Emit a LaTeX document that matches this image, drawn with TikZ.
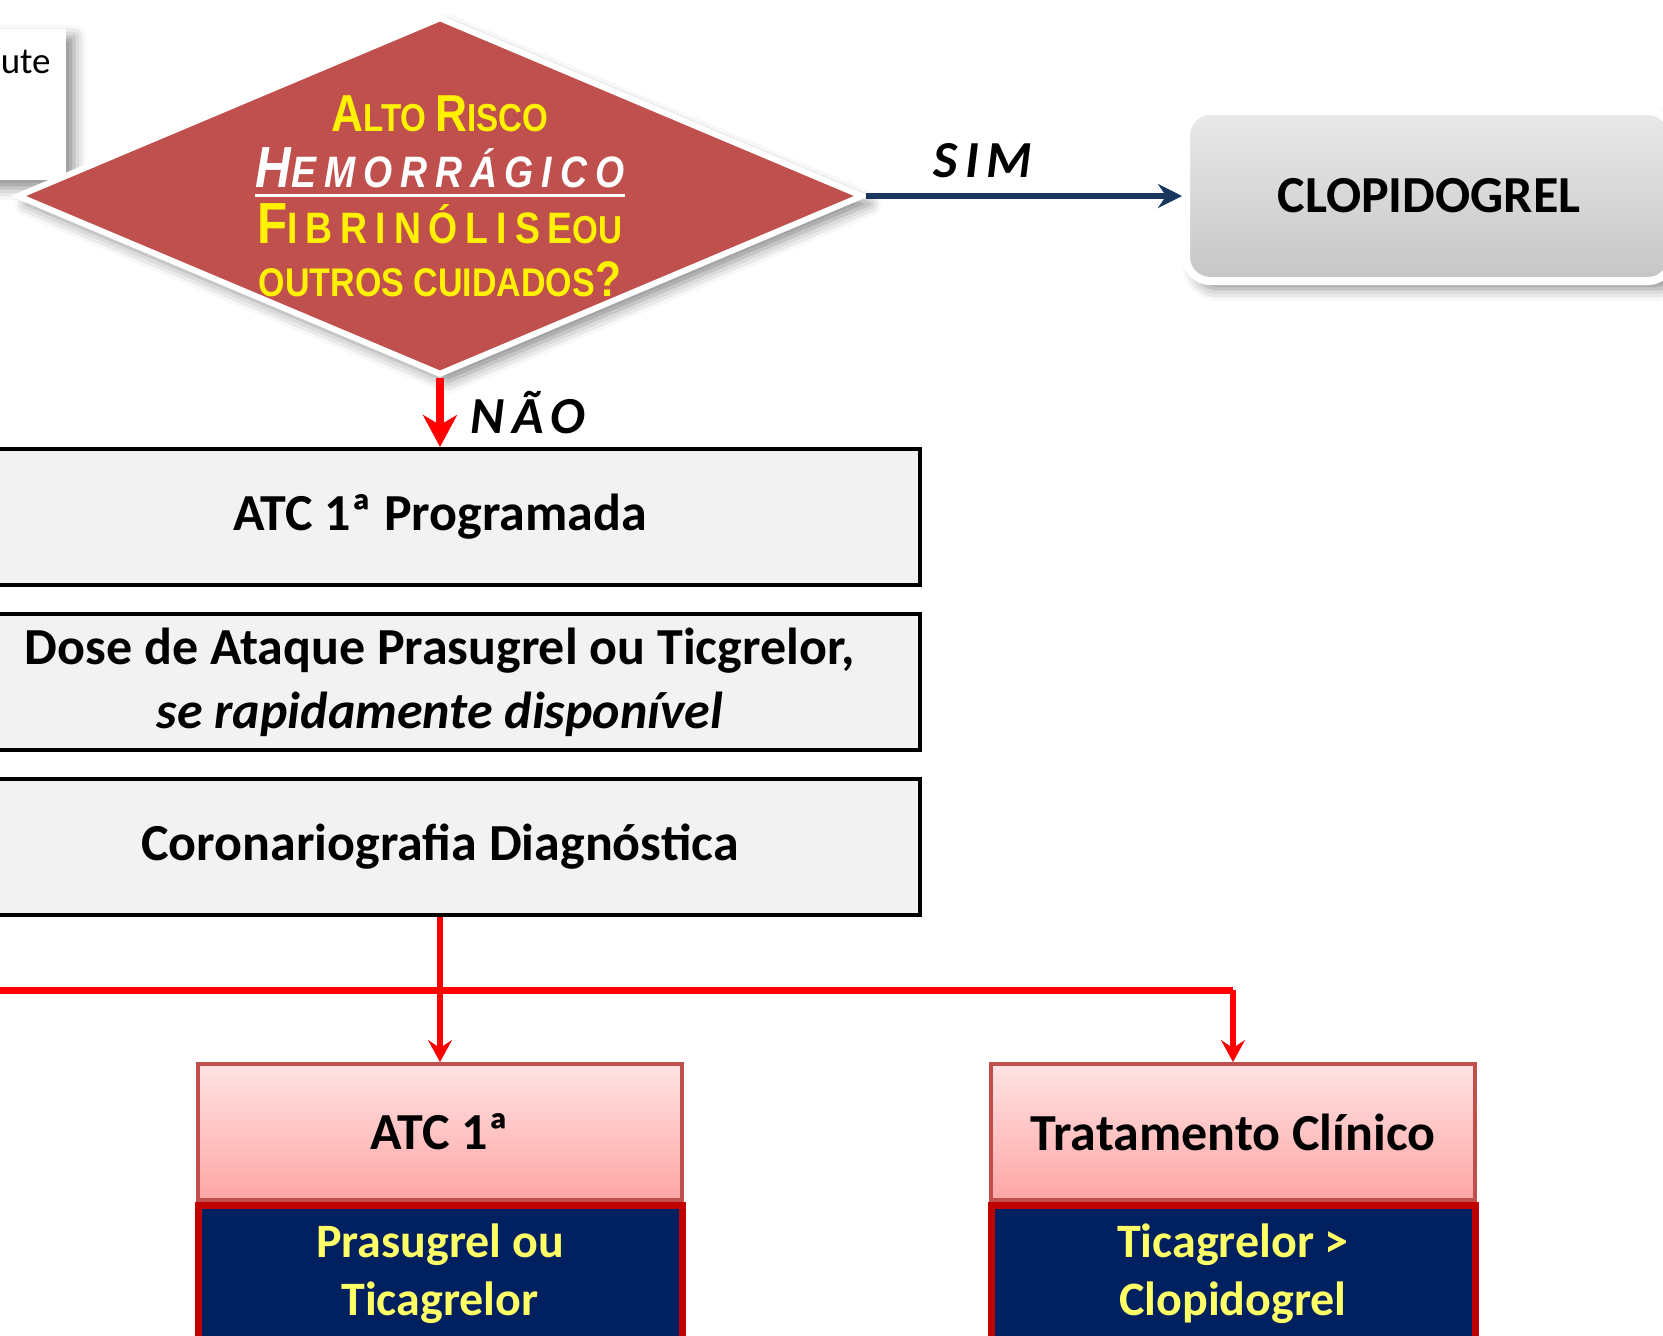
\documentclass[tikz,border=0pt]{standalone}
\usepackage{fontspec}
\setmainfont{Carlito}
\newfontfamily\narrowfont[FakeStretch=0.85]{Liberation Sans}
\newfontfamily\spacedfont[FakeStretch=0.85,LetterSpace=18]{Liberation Sans}
\newfontfamily\yesnofont[LetterSpace=15]{Carlito}
\usetikzlibrary{positioning,arrows.meta,shapes.geometric,shadows.blur}
\definecolor{decred}{HTML}{C0504D}
\definecolor{simblue}{HTML}{17375E}
\definecolor{boxgray}{HTML}{F2F2F2}
\definecolor{pinktop}{HTML}{FFE3E3}
\definecolor{pinkbot}{HTML}{FFA5A5}
\definecolor{navy}{HTML}{002060}
\definecolor{darkred}{HTML}{C00000}
\definecolor{paleyellow}{HTML}{FFFF66}
\newcommand\fsz[1]{\fontsize{#1}{#1}\selectfont}

\begin{document}
\begin{tikzpicture}[x=0.5pt,y=-0.5pt]
 \tikzset{stepbox/.style={draw, line width=2pt, fill=boxgray, minimum width=480pt, minimum height=68pt, align=center, font=\bfseries\fontsize{26pt}{32pt}\selectfont}}
 \tikzset{pinkbox/.style={draw=decred, line width=2pt, top color=pinktop, bottom color=pinkbot, minimum width=242pt, minimum height=68pt, font=\bfseries\fsz{26pt}}}
 \tikzset{navybox/.style={draw=darkred, line width=3.5pt, fill=navy, text=paleyellow, minimum width=242pt, minimum height=68pt, align=center, font=\bfseries\fontsize{24pt}{29pt}\selectfont}}
 \tikzset{redline/.style={red, line width=3pt}}
 \tikzset{directed/.style={redline, -{Stealth[length=11pt,width=12pt,inset=4pt]}}}
 \tikzset{answer/.style={text=black, font=\yesnofont\bfseries\itshape\fsz{26pt}}}
 \tikzset{softshadow/.style={blur shadow={shadow xshift=4pt, shadow yshift=-4pt, shadow blur radius=6pt, shadow opacity=45}}}
  \useasboundingbox (0,0) rectangle (1663,1335);
  % box cut off at the left edge
  \node[fill=white, minimum width=140pt, minimum height=75.5pt, softshadow] (prev) at (-74,104.5) {};
  \node[anchor=east, inner sep=0pt, font=\fsz{18.5pt}] (prevtext) at (51,62) {ute};
  % decision
  \node[diamond, draw=white, line width=3pt, fill=decred, inner sep=0pt, minimum width=423pt, minimum height=179pt, softshadow] (dec) at (440,196) {};
  \node[anchor=base, inner sep=0pt, text=yellow, font=\narrowfont\bfseries\fsz{19.5pt}] (t1) at (440,131) {{\fsz{26pt}A}LTO {\fsz{26pt}R}ISCO};
  \node[anchor=base, inner sep=0pt, text=white, font=\spacedfont\bfseries\itshape\fsz{22pt}] (t2) at (440,187) {{\fsz{29pt}H}EMORRÁGICO};
  \draw[white, line width=1.5pt] ([yshift=-4pt]t2.base west) -- ([yshift=-4pt]t2.base east);
  \node[anchor=base, inner sep=0pt, text=yellow, font=\spacedfont\bfseries\fsz{22pt}] (t3) at (440,243) {{\fsz{29pt}F}IBRINÓLISE{\narrowfont\fsz{19.5pt}OU}};
  \node[anchor=base, inner sep=0pt, text=yellow, font=\narrowfont\bfseries\fsz{20pt}] (t4) at (440,296) {OUTROS CUIDADOS{\fsz{25pt}?}};
  \node[draw=white, line width=4pt, rounded corners=12pt, top color=gray!17, bottom color=gray!45, minimum width=243pt, minimum height=85pt, font=\bfseries\fsz{26pt}, softshadow] (clop) at (1429,196) {CLOPIDOGREL};
  % steps
  \node[stepbox] (pci) at (440,517) {ATC 1ª Programada};
  \node[stepbox] (load) at (440,682) {Dose de Ataque Prasugrel ou Ticgrelor,\\\textit{se rapidamente disponível}};
  \node[stepbox] (angio) at (440,847) {Coronariografia Diagnóstica};
  % outcomes
  \node[pinkbox] (atc) at (440,1132) {ATC 1ª};
  \node[navybox, below=0pt of atc] (atcdrug) {Prasugrel ou\\Ticagrelor};
  \node[pinkbox] (clin) at (1233,1132) {Tratamento Clínico};
  \node[navybox, below=0pt of clin] (clindrug) {Ticagrelor >\\Clopidogrel};
  % connectors
  \draw[simblue, line width=3pt, -{Stealth[length=12pt,width=12pt,inset=4pt]}] (dec.east) -- (clop.west) node[pos=0.37, above=4pt, answer] (sim) {SIM};
  \draw[redline, line width=4pt, -{Stealth[length=16pt,width=17pt,inset=5pt]}] (dec.south) -- (pci.north) node[midway, right=10pt, answer] (nao) {NÃO};
  \coordinate (split) at (440,990);
  \coordinate (leftend) at (-20,990);
  \coordinate (corner) at (1233,990);
  \draw[redline] (angio.south) -- (split);
  \draw[redline, line width=3.5pt] (leftend) -- (corner);
  \draw[directed] (split) -- (atc.north);
  \draw[directed] (corner) -- (clin.north);
\end{tikzpicture}
\end{document}
